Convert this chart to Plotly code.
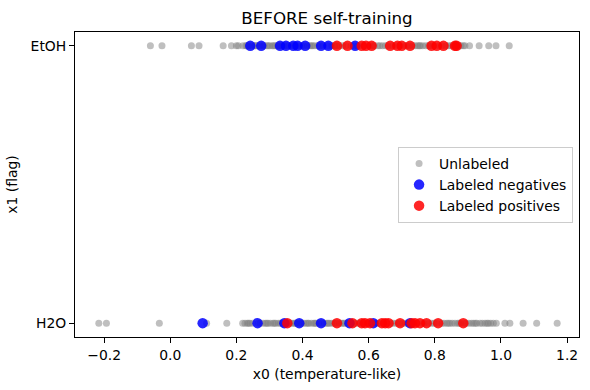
import plotly.graph_objects as go

# ---- data ----
etoh_unlabeled = [-0.06, -0.025, 0.064, 0.087, 0.16, 0.185, 0.2, 0.206, 0.22,
                  0.228, 0.236, 0.247, 0.255, 0.263, 0.271, 0.284, 0.292, 0.301, 0.309,
                  0.318, 0.325, 0.338, 0.344, 0.357, 0.366, 0.381, 0.389, 0.397, 0.415,
                  0.422, 0.431, 0.437, 0.446, 0.462, 0.489, 0.497, 0.512, 0.521, 0.547,
                  0.566, 0.573, 0.601, 0.617, 0.628, 0.634, 0.642, 0.651, 0.672, 0.694,
                  0.707, 0.714, 0.733, 0.741, 0.748, 0.756, 0.763, 0.772, 0.781, 0.798,
                  0.813, 0.834, 0.842, 0.849, 0.873, 0.879, 0.886,
                  0.232, 0.258, 0.279, 0.296, 0.313, 0.329, 0.351, 0.373, 0.403, 0.427,
                  0.452, 0.476, 0.503, 0.531, 0.556, 0.588, 0.612, 0.658, 0.681, 0.722,
                  0.753, 0.786, 0.821, 0.857, 0.868, 0.891,
                  0.905, 0.934, 0.963, 0.985, 1.025]
h2o_unlabeled = [-0.216, -0.193, -0.033, 0.11, 0.171, 0.219,
                 0.226, 0.233, 0.241, 0.249, 0.272, 0.281, 0.288, 0.296, 0.303, 0.311,
                 0.319, 0.327, 0.333, 0.349, 0.362, 0.368, 0.374, 0.382, 0.397, 0.404,
                 0.411, 0.419, 0.427, 0.434, 0.441, 0.449, 0.466, 0.473, 0.481, 0.488,
                 0.495, 0.512, 0.519, 0.527, 0.535, 0.558, 0.566, 0.572, 0.597, 0.621,
                 0.628, 0.633, 0.668, 0.676, 0.684, 0.703, 0.711, 0.718, 0.747, 0.763,
                 0.782, 0.791, 0.798, 0.821, 0.828, 0.836, 0.846, 0.853, 0.861, 0.869,
                 0.878, 0.895, 0.903, 0.911, 0.917, 0.927, 0.937, 0.944, 0.952, 0.962,
                 0.969, 0.977, 0.986, 1.012, 1.027, 1.067, 1.108, 1.17,
                 0.237, 0.266, 0.292, 0.315, 0.339, 0.357, 0.378, 0.392, 0.416, 0.438,
                 0.458, 0.477, 0.501, 0.523, 0.547, 0.581, 0.609, 0.645, 0.693, 0.728,
                 0.768, 0.806, 0.841, 0.874, 0.889, 0.923, 0.958]
etoh_neg = [0.242, 0.275, 0.332, 0.35, 0.372, 0.385, 0.408, 0.456, 0.478, 0.559]
etoh_pos = [0.504, 0.536, 0.579, 0.592, 0.609, 0.665, 0.687, 0.7, 0.725,
            0.79, 0.806, 0.826, 0.861, 0.866]
h2o_neg = [0.098, 0.264, 0.345, 0.39, 0.456, 0.542, 0.614, 0.725]
h2o_pos = [0.354, 0.504, 0.551, 0.579, 0.589, 0.604, 0.64, 0.65, 0.66, 0.695,
           0.73, 0.74, 0.755, 0.775, 0.81, 0.886]
y_labels = ["H2O", "EtOH"]
x_ticks = [-0.2, 0.0, 0.2, 0.4, 0.6, 0.8, 1.0, 1.2]

FONT = "DejaVu Sans"
FS = 13.9

fig = go.Figure()
fig.add_trace(go.Scatter(
    x=etoh_unlabeled + h2o_unlabeled,
    y=[1] * len(etoh_unlabeled) + [0] * len(h2o_unlabeled),
    mode="markers", name="Unlabeled",
    marker=dict(color="gray", size=7, opacity=0.5, line=dict(width=0)),
))
fig.add_trace(go.Scatter(
    x=etoh_neg + h2o_neg,
    y=[1] * len(etoh_neg) + [0] * len(h2o_neg),
    mode="markers", name="Labeled negatives",
    marker=dict(color="blue", size=10.5, opacity=0.85, line=dict(width=0)),
))
fig.add_trace(go.Scatter(
    x=etoh_pos + h2o_pos,
    y=[1] * len(etoh_pos) + [0] * len(h2o_pos),
    mode="markers", name="Labeled positives",
    marker=dict(color="red", size=10.5, opacity=0.85, line=dict(width=0)),
))

fig.update_layout(
    width=590, height=390,
    margin=dict(l=75, r=11, t=32, b=53),
    paper_bgcolor="white", plot_bgcolor="white",
    font=dict(family=FONT, size=FS, color="black"),
    title=dict(text="BEFORE self-training", x=(75 + 504 / 2) / 590, xanchor="center",
               y=1 - 18 / 390, yanchor="middle", font=dict(size=16.7)),
    legend=dict(x=0.641, y=0.623, xanchor="left", yanchor="top",
                bordercolor="#cccccc", borderwidth=1, bgcolor="rgba(255,255,255,0.8)",
                font=dict(size=FS), itemsizing="trace", tracegroupgap=0),
    showlegend=True,
)
fig.update_xaxes(
    range=[-0.288, 1.236], tickvals=x_ticks, tickformat=".1f",
    showgrid=False, zeroline=False, showline=True, mirror=True,
    linecolor="black", linewidth=1, ticks="outside", ticklen=5, tickcolor="black",
    title=dict(text="x0 (temperature-like)", standoff=7, font=dict(size=FS)),
    automargin=False,
)
fig.update_yaxes(
    range=[-0.05, 1.05], tickvals=[0, 1], ticktext=y_labels,
    showgrid=False, zeroline=False, showline=True, mirror=True,
    linecolor="black", linewidth=1, ticks="outside", ticklen=5, tickcolor="black",
    title=dict(text="x1 (flag)", standoff=9, font=dict(size=FS)),
    automargin=False,
)
fig.write_html("out.html", config={"displayModeBar": False},
               post_script="document.body.style.margin='0px';")
